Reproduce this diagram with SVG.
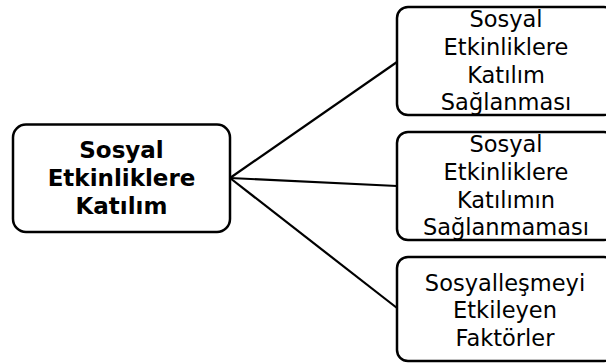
<svg xmlns="http://www.w3.org/2000/svg" width="606" height="363" viewBox="0 0 606 363">
  <style>
    .box { fill: #ffffff; stroke: #000000; stroke-width: 2.5; }
    .edge { stroke: #000000; stroke-width: 2.2; fill: none; }
    .lbl { font-family: "DejaVu Sans", Verdana, sans-serif; font-size: 22.5px; fill: #000000; text-anchor: middle; }
    .root { font-weight: bold; font-size: 23px; }
  </style>
  <rect width="606" height="363" fill="#ffffff"/>

  <!-- connectors from the root to each child -->
  <g id="connectors">
    <line class="edge" x1="230" y1="178" x2="397" y2="62"/>
    <line class="edge" x1="230" y1="178" x2="397" y2="186"/>
    <line class="edge" x1="230" y1="178" x2="397" y2="308"/>
  </g>

  <!-- root node -->
  <g id="root">
    <rect class="box" x="13" y="124.5" width="217" height="107.5" rx="13" ry="13"/>
    <text class="lbl root" x="121.5" y="158">Sosyal</text>
    <text class="lbl root" x="121.5" y="186">Etkinliklere</text>
    <text class="lbl root" x="121.5" y="214">Katılım</text>
  </g>

  <!-- child nodes -->
  <g id="child1">
    <rect class="box" x="397" y="7" width="218" height="108" rx="11" ry="11"/>
    <text class="lbl" x="506" y="27">Sosyal</text>
    <text class="lbl" x="506" y="55">Etkinliklere</text>
    <text class="lbl" x="506" y="83">Katılım</text>
    <text class="lbl" x="506" y="110">Sağlanması</text>
  </g>

  <g id="child2">
    <rect class="box" x="397" y="132" width="218" height="108" rx="11" ry="11"/>
    <text class="lbl" x="506" y="152">Sosyal</text>
    <text class="lbl" x="506" y="180">Etkinliklere</text>
    <text class="lbl" x="506" y="208">Katılımın</text>
    <text class="lbl" x="506" y="235">Sağlanmaması</text>
  </g>

  <g id="child3">
    <rect class="box" x="397" y="257" width="218" height="104" rx="11" ry="11"/>
    <text class="lbl" x="505" y="291">Sosyalleşmeyi</text>
    <text class="lbl" x="505" y="318">Etkileyen</text>
    <text class="lbl" x="505" y="346">Faktörler</text>
  </g>
</svg>
